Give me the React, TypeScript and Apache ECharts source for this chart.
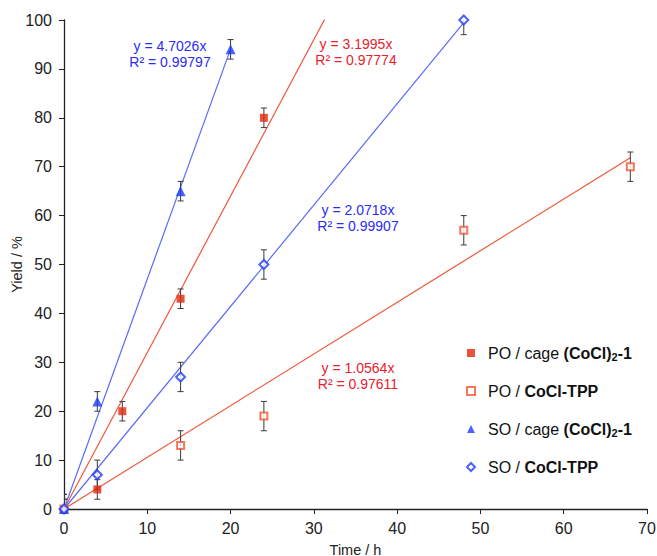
import React, { useEffect, useRef } from "react";
import * as echarts from "echarts";

// ---- data ----
const seriesNames = [
  "PO / cage (CoCl)2-1",
  "PO / CoCl-TPP",
  "SO / cage (CoCl)2-1",
  "SO / CoCl-TPP",
];
const poCageX = [0, 4, 7, 14, 24];
const poCageY = [0, 4, 20, 43, 80];
const poCageErr = [2, 2, 2, 2, 2];

const poTppX = [0, 14, 24, 48, 68];
const poTppY = [0, 13, 19, 57, 70];
const poTppErr = [3, 3, 3, 3, 3];

const soCageX = [0, 4, 14, 20];
const soCageY = [0, 22, 65, 94];
const soCageErr = [2, 2, 2, 2];

const soTppX = [0, 4, 14, 24, 48];
const soTppY = [0, 7, 27, 50, 100];
const soTppErr = [3, 3, 3, 3, 3];

// linear fits through origin: slope, R², x range end
const fitSlopes = [3.1995, 1.0564, 4.7026, 2.0718];
const fitR2 = ["0.97774", "0.97611", "0.99797", "0.99907"];
const fitEndX = [32, 68, 20, 48];

const xTicks = { min: 0, max: 70, interval: 10 };
const yTicks = { min: 0, max: 100, interval: 10 };

const RED = "#e2280c";
const RED_LINE = "#ef5536";
const BLUE = "#1f3cf5";
const BLUE_LINE = "#5a6cf3";
const RED_TXT = "#e8222c";
const BLUE_TXT = "#2a2cf5";
const FONT = "'Liberation Sans', Arial, Helvetica, sans-serif";

const zip = (xs: number[], ys: number[]) => xs.map((x, i) => [x, ys[i]]);
const errData = (xs: number[], ys: number[], es: number[]) =>
  xs.map((x, i) => [x, ys[i] - es[i], ys[i] + es[i]]);

export default function App() {
  const ref = useRef<HTMLDivElement>(null);
  useEffect(() => {
    if (!ref.current) return;
    const chart = echarts.init(ref.current, undefined, { renderer: "svg" });

    const lineColors = [RED_LINE, RED_LINE, BLUE_LINE, BLUE_LINE];
    const fitSeries = fitSlopes.map((m, i) => ({
      type: "line",
      name: "fit" + i,
      data: [
        [0, 0],
        [fitEndX[i], m * fitEndX[i]],
      ],
      showSymbol: false,
      symbol: "none",
      clip: true,
      silent: true,
      lineStyle: { color: lineColors[i], width: 1.2 },
      z: 1,
    }));

    const errSeries = [
      errData(poCageX, poCageY, poCageErr),
      errData(poTppX, poTppY, poTppErr),
      errData(soCageX, soCageY, soCageErr),
      errData(soTppX, soTppY, soTppErr),
    ].map((d, i) => ({
      type: "custom",
      name: "err" + i,
      data: d,
      clip: true,
      silent: true,
      z: 2,
      renderItem: (params: any, api: any) => {
        const x = api.value(0);
        const lo = api.value(1);
        const hi = api.value(2);
        const pHi = api.coord([x, hi]);
        const pLo = api.coord([x, lo]);
        const w = 3;
        const st = { stroke: "#3a3a3a", lineWidth: 1 };
        return {
          type: "group",
          children: [
            { type: "line", shape: { x1: pHi[0], y1: pHi[1], x2: pLo[0], y2: pLo[1] }, style: st },
            { type: "line", shape: { x1: pHi[0] - w, y1: pHi[1], x2: pHi[0] + w, y2: pHi[1] }, style: st },
            { type: "line", shape: { x1: pLo[0] - w, y1: pLo[1], x2: pLo[0] + w, y2: pLo[1] }, style: st },
          ],
        };
      },
    }));

    const scatterSeries = [
      {
        type: "scatter",
        name: seriesNames[0],
        data: zip(poCageX, poCageY),
        symbol: "rect",
        symbolSize: 8,
        itemStyle: { color: RED },
        z: 3,
      },
      {
        type: "scatter",
        name: seriesNames[1],
        data: zip(poTppX, poTppY),
        symbol: "rect",
        symbolSize: 7,
        itemStyle: { color: "#ffffff", borderColor: RED_LINE, borderWidth: 2 },
        z: 3,
      },
      {
        type: "scatter",
        name: seriesNames[2],
        data: zip(soCageX, soCageY),
        symbol: "triangle",
        symbolSize: 10,
        itemStyle: { color: BLUE },
        z: 3,
      },
      {
        type: "scatter",
        name: seriesNames[3],
        data: zip(soTppX, soTppY),
        symbol: "diamond",
        symbolSize: 9,
        itemStyle: { color: "#ffffff", borderColor: BLUE, borderWidth: 2 },
        z: 3,
      },
    ];

    const ann = (t: string, x: number, y: number, c: string) => ({
      type: "text",
      x,
      y,
      style: {
        text: t,
        fill: c,
        font: `14px ${FONT}`,
        align: "center",
        verticalAlign: "middle",
      },
      z: 10,
    });
    const annPos = [
      [356, 44],
      [358, 368],
      [170, 46],
      [358, 210],
    ];
    const annCol = [RED_TXT, RED_TXT, BLUE_TXT, BLUE_TXT];
    const graphics: any[] = [];
    fitSlopes.forEach((m, i) => {
      graphics.push(ann(`y = ${m.toFixed(4)}x`, annPos[i][0], annPos[i][1], annCol[i]));
      graphics.push(ann(`R² = ${fitR2[i]}`, annPos[i][0], annPos[i][1] + 16, annCol[i]));
    });

    const option: any = {
      animation: false,
      backgroundColor: "#ffffff",
      textStyle: { fontFamily: FONT },
      grid: { left: 64, right: 10, top: 20, bottom: 47, containLabel: false, outerBoundsMode: "none" },
      xAxis: {
        type: "value",
        min: xTicks.min,
        max: xTicks.max,
        interval: xTicks.interval,
        name: "Time / h",
        nameLocation: "middle",
        nameGap: 33,
        nameMoveOverlap: false,
        nameTextStyle: { fontSize: 14.5, color: "#222", fontFamily: FONT },
        axisLine: { show: true, onZero: false, lineStyle: { color: "#222", width: 1.3 } },
        axisTick: { show: true, length: 5, lineStyle: { color: "#222" } },
        axisLabel: { fontSize: 16, color: "#222", margin: 11, fontFamily: FONT },
        splitLine: { show: false },
      },
      yAxis: {
        type: "value",
        min: yTicks.min,
        max: yTicks.max,
        interval: yTicks.interval,
        name: "Yield / %",
        nameLocation: "middle",
        nameGap: 40,
        nameMoveOverlap: false,
        nameTextStyle: { fontSize: 14.5, color: "#222", fontFamily: FONT },
        axisLine: { show: true, lineStyle: { color: "#222", width: 1.3 } },
        axisTick: { show: true, length: 5, lineStyle: { color: "#222" } },
        axisLabel: { fontSize: 16, color: "#222", margin: 12, fontFamily: FONT },
        splitLine: { show: false },
      },
      legend: {
        data: seriesNames,
        orient: "vertical",
        left: 461,
        top: 338,
        itemWidth: 8,
        itemHeight: 8,
        itemGap: 18,
        selectedMode: false,
        formatter: (name: string) => {
          const pre = name.substring(0, 2);
          if (name.indexOf("cage") >= 0) {
            return `{r|${pre} / cage }{b|(CoCl)}{s|2}{b|-1}`;
          }
          return `{r|${pre} / }{b|CoCl-TPP}`;
        },
        textStyle: {
          fontSize: 16,
          color: "#111",
          fontFamily: FONT,
          lineHeight: 20,
          padding: [0, 0, 0, 8],
          rich: {
            r: { fontSize: 16, color: "#111", fontFamily: FONT, lineHeight: 20 },
            b: { fontSize: 16, color: "#111", fontWeight: "bold", fontFamily: FONT, lineHeight: 20 },
            s: {
              fontSize: 11,
              color: "#111",
              fontWeight: "bold",
              fontFamily: FONT,
              lineHeight: 20,
              padding: [8, 0, 0, 0],
            },
          },
        },
      },
      graphic: graphics,
      series: [...fitSeries, ...errSeries, ...scatterSeries],
    };
    chart.setOption(option);
    return () => chart.dispose();
  }, []);

  return (
    <div
      ref={ref}
      style={{ position: "absolute", left: 0, top: 0, width: 657, height: 556, background: "#fff" }}
    />
  );
}
